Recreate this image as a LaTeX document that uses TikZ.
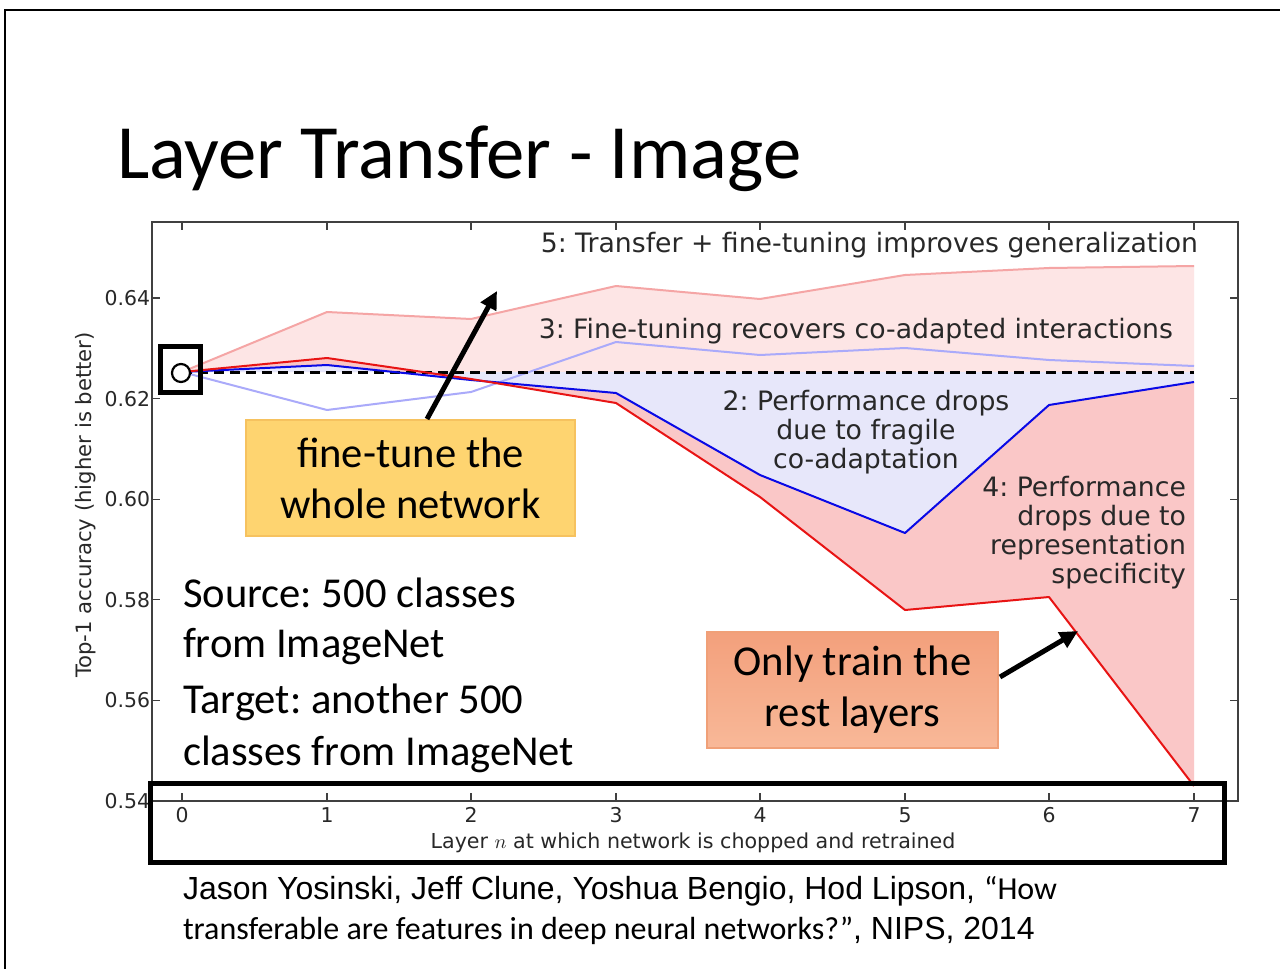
\documentclass[tikz,border=0pt]{standalone}
\usepackage{fontspec}
\setmainfont{Carlito}
\newfontfamily\dvfont{DejaVu Sans}
\newfontfamily\arfont{Liberation Sans}
\usetikzlibrary{arrows.meta}
\frenchspacing
\definecolor{pinkfill}{RGB}{253,229,229}
\definecolor{lavfill}{RGB}{231,231,250}
\definecolor{salfill}{RGB}{250,199,199}
\definecolor{lredline}{RGB}{245,165,165}
\definecolor{lblueline}{RGB}{170,170,250}
\definecolor{blueline}{RGB}{10,10,230}
\definecolor{redline}{RGB}{232,20,20}
\definecolor{orgfill}{RGB}{254,212,112}
\definecolor{orgdraw}{RGB}{246,194,95}
\definecolor{saltop}{RGB}{243,160,124}
\definecolor{salbot}{RGB}{248,184,152}
\definecolor{saldraw}{RGB}{240,160,120}
\definecolor{txtgray}{RGB}{40,40,40}
\tikzset{
  every node/.style={inner sep=0pt, outer sep=0pt},
  plotline/.style={line width=1pt, line join=round},
  tickmark/.style={line width=0.6pt, draw=black!75},
  ticklab/.style={font=\dvfont\fontsize{10.2}{12}\selectfont, text=txtgray},
  annot/.style={font=\dvfont\fontsize{13.35}{14.5}\selectfont, text=txtgray},
  bigtext/.style={font=\fontsize{21.3}{25.5}\selectfont, text=black},
  callout/.style={minimum height=58pt, align=center, bigtext, line width=0.6pt},
  pointer/.style={line width=2.5pt, -{Triangle[length=9pt,width=8.5pt]}},
  hilite/.style={draw=black, line width=2.5pt},
}
\begin{document}
\begin{tikzpicture}[x=0.5pt,y=-0.5pt]
\useasboundingbox (0,0) rectangle (1280,969);
\fill[white] (0,0) rectangle (1280,969);
% slide frame
\draw[line width=1.2pt] (1280,10) -- (5,10) -- (5,969);
% title
\node[anchor=base west, font=\fontsize{38.4}{40}\selectfont] (title) at (117,178) {Layer Transfer - Image};

% fills
\fill[pinkfill] (182,372) -- (327,312) -- (471,319) -- (616,286) -- (760,299) -- (905,275) -- (1049,268) -- (1194,266) -- (1194,372) -- cycle;
\fill[lavfill] (182,372) -- (327,365) -- (471,380) -- (616,393) -- (760,475) -- (905,533) -- (1049,405) -- (1194,382) -- (1194,372) -- cycle;
\fill[salfill] (182,372) -- (327,365) -- (471,380) -- (616,393) -- (760,475) -- (905,533) -- (1049,405) -- (1194,382) -- (1194,786) -- (1049,597) -- (905,610) -- (760,497) -- (616,403) -- (471,379) -- (327,358) -- cycle;

% lines
\draw[plotline, lredline] (182,372) -- (327,312) -- (471,319) -- (616,286) -- (760,299) -- (905,275) -- (1049,268) -- (1194,266);
\draw[plotline, lblueline] (182,372) -- (327,410) -- (471,392) -- (616,342) -- (760,355) -- (905,348) -- (1049,360) -- (1194,366);
\draw[line width=1.5pt, dash pattern=on 5pt off 3pt] (182,372) -- (1194,372);
\draw[plotline, blueline] (182,372) -- (327,365) -- (471,380) -- (616,393) -- (760,475) -- (905,533) -- (1049,405) -- (1194,382);
\draw[plotline, redline] (182,372) -- (327,358) -- (471,379) -- (616,403) -- (760,497) -- (905,610) -- (1049,597) -- (1194,786);
% start marker
\node[circle, draw=black, fill=white, line width=1.1pt, minimum size=9pt] (start) at (181,373) {};

% axes frame
\draw[line width=0.75pt, draw=black!75] (152,222) rectangle (1238,801);
\foreach \yv/\lab in {801/0.54, 700.4/0.56, 599.8/0.58, 499.2/0.60, 398.6/0.62, 298/0.64} {
  \draw[tickmark] (152,\yv) -- (160,\yv);
  \draw[tickmark] (1238,\yv) -- (1230,\yv);
  \node[ticklab, anchor=east] at (150,\yv) {\lab};
}
\foreach \xv/\lab in {182/0, 327/1, 471/2, 616/3, 760/4, 905/5, 1049/6, 1194/7} {
  \draw[tickmark] (\xv,801) -- (\xv,793);
  \draw[tickmark] (\xv,222) -- (\xv,230);
  \node[ticklab] at (\xv,815) {\lab};
}
\node[font=\dvfont\fontsize{10.3}{12}\selectfont, text=txtgray] (xlab) at (693,843) {Layer $n$ at which network is chopped and retrained};
\node[font=\dvfont\fontsize{10.6}{12}\selectfont, text=txtgray, rotate=90] (ylab) at (86,505) {Top-1 accuracy (higher is better)};

% annotations
\node[annot, anchor=base east] (a5) at (1198,252) {5: Transfer + fine-tuning improves generalization};
\node[annot, anchor=base east] (a3) at (1173,338) {3: Fine-tuning recovers co-adapted interactions};
\node[annot, align=center] (a2) at (866,432) {2: Performance drops\\due to fragile\\co-adaptation};
\node[annot, align=right, anchor=east] (a4) at (1186,533) {4: Performance\\drops due to\\representation\\specificity};

% highlight boxes
\draw[hilite] (160,346) rectangle (200,392);
\draw[hilite] (150,783) rectangle (1224,862);

% callouts
\node[callout, minimum width=164.5pt, fill=orgfill, draw=orgdraw] (ft) at (410.5,478) {fine-tune the\\whole network};
\node[callout, minimum width=145.5pt, top color=saltop, bottom color=salbot, draw=saldraw] (ot) at (852.5,690) {Only train the\\rest layers};
\coordinate (ftTail) at (427,419);
\coordinate (ftTip) at (497,291);
\coordinate (otTail) at (1000,677);
\coordinate (otTip) at (1078,631);
\draw[pointer] (ftTail) -- (ftTip);
\draw[pointer] (otTail) -- (otTip);

% source / target
\node[bigtext, anchor=base west] (s1) at (183,607) {Source: 500 classes};
\node[bigtext, anchor=base west] (s2) at (183,657) {from ImageNet};
\node[bigtext, anchor=base west] (t1) at (183,713) {Target: another 500};
\node[bigtext, anchor=base west] (t2) at (183,765) {classes from ImageNet};

% citation
\node[anchor=base west, font=\fontsize{16}{18}\selectfont] (c1) at (183,899) {{\arfont Jason Yosinski, Jeff Clune, Yoshua Bengio, Hod Lipson, }“How};
\node[anchor=base west, font=\fontsize{16}{18}\selectfont] (c2) at (183,939) {transferable are features in deep neural networks?”{\arfont , NIPS, 2014}};
\end{tikzpicture}
\end{document}
